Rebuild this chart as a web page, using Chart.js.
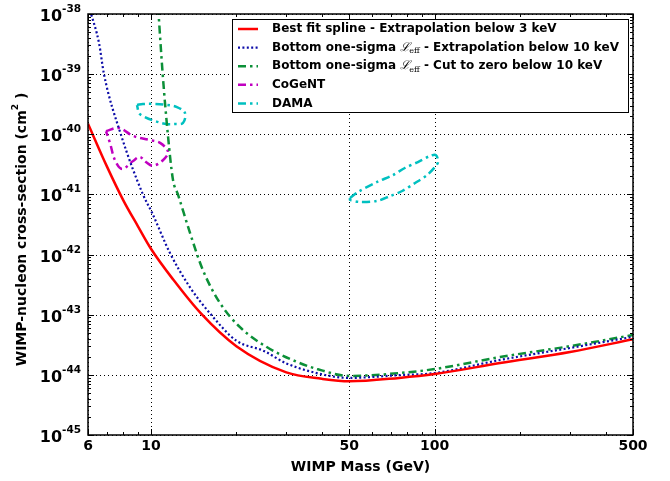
<!DOCTYPE html>
<html><head><meta charset="utf-8">
<script src="https://cdn.jsdelivr.net/npm/chart.js@4.4.1/dist/chart.umd.min.js"></script>
<style>html,body{margin:0;padding:0;background:#fff;}canvas{display:block;}</style>
</head><body>
<canvas id="c" width="670" height="481"></canvas>
<script>
// ---- data ----
const xTickValues = [6, 10, 50, 100, 500];
const xMinorTicks = [7, 8, 9, 20, 30, 40, 60, 70, 80, 90, 200, 300, 400];
const yTickExponents = [-45, -44, -43, -42, -41, -40, -39, -38];

const bestFitMass  = [6, 7, 8, 9, 10, 12, 15, 20, 30, 40, 50, 75, 100, 170, 300, 500];
const bestFitSigma = [1.5e-40, 2.9e-41, 7.9e-42, 2.95e-42, 1.25e-42, 3.8e-43, 1.05e-43, 3.0e-44, 1.1e-44, 8.6e-45, 7.8e-45, 8.9e-45, 1.03e-44, 1.57e-44, 2.4e-44, 3.9e-44];

const extrapMass  = [6.1, 6.56, 6.83, 7.83, 9.37, 10.1, 11.67, 13.7, 16.1, 20, 25, 30, 42.7, 50, 75, 100, 170, 300, 500];
const extrapSigma = [1.15e-38, 3.3e-39, 1.0e-39, 1.0e-40, 1.0e-41, 4.9e-42, 1.06e-42, 2.9e-43, 1.07e-43, 3.7e-44, 2.5e-44, 1.55e-44, 9.6e-45, 8.9e-45, 9.9e-45, 1.07e-44, 1.77e-44, 2.8e-44, 4.3e-44];

const cutMass  = [10.6, 11.0, 11.47, 11.96, 12.45, 13.73, 15.25, 17.5, 20.6, 25.6, 32.7, 38.5, 50, 75, 100, 170, 300, 500];
const cutSigma = [1.3e-38, 1.0e-39, 1.0e-40, 1.74e-41, 1.0e-41, 2.29e-42, 5.5e-43, 1.57e-43, 6.2e-44, 2.9e-44, 1.64e-44, 1.25e-44, 9.6e-45, 1.07e-44, 1.25e-44, 1.98e-44, 3.0e-44, 4.6e-44];

const cogentMass  = [6.94, 7.71, 8.65, 9.93, 10.77, 11.49, 11.02, 10.16, 9.6, 9.14, 8.65, 7.91, 7.47, 7.17, 6.94];
const cogentSigma = [1.13e-40, 1.27e-40, 9.4e-41, 8.0e-41, 7.2e-41, 5.1e-41, 3.7e-41, 3.0e-41, 3.46e-41, 4.2e-41, 3.6e-41, 2.65e-41, 3.7e-41, 7.2e-41, 1.13e-40];

const damaLowMass  = [8.93, 9.37, 10.33, 11.38, 12.35, 13.18, 12.97, 12.16, 11.38, 10.33, 9.37, 9.08, 8.93];
const damaLowSigma = [3.07e-40, 3.19e-40, 3.19e-40, 3.07e-40, 2.84e-40, 2.26e-40, 1.54e-40, 1.48e-40, 1.48e-40, 1.66e-40, 2.01e-40, 2.26e-40, 3.07e-40];

const damaHighMass  = [50.3, 53.7, 62.7, 71.3, 78.5, 87.3, 96.3, 101.1, 102.8, 100.3, 94, 85.3, 76.8, 69.7, 62.7, 54.6, 50.3, 50.3];
const damaHighSigma = [8.7e-42, 1.1e-41, 1.61e-41, 2.1e-41, 2.75e-41, 3.46e-41, 4.36e-41, 4.5e-41, 3.46e-41, 2.86e-41, 2.1e-41, 1.55e-41, 1.14e-41, 9.4e-42, 7.8e-42, 7.5e-42, 8.1e-42, 8.7e-42];

const seriesLabels = [
  'Best fit spline - Extrapolation below 3 keV',
  'Bottom one-sigma ℒ_eff - Extrapolation below 10 keV',
  'Bottom one-sigma ℒ_eff - Cut to zero below 10 keV',
  'CoGeNT',
  'DAMA'
];
const xTitle = 'WIMP Mass (GeV)';

// ---- helpers ----
const toXY = (xs, ys) => xs.map((v, i) => ({x: v, y: ys[i]}));
const FONT = "'DejaVu Sans', sans-serif";
const DASHDOT = [8, 4, 2.5, 4];

const curve = (label, xs, ys, color, width, dash, smooth) => Object.assign({
  label, data: toXY(xs, ys), borderColor: color, backgroundColor: color,
  borderWidth: width, borderDash: dash, pointRadius: 0, fill: false,
  borderJoinStyle: 'round', showLine: true
}, smooth === 'mono' ? {cubicInterpolationMode: 'monotone'} : {tension: smooth});

const datasets = [
  curve(seriesLabels[0], bestFitMass, bestFitSigma, '#ff0000', 2.5, [], 'mono'),
  curve(seriesLabels[1], extrapMass, extrapSigma, '#0c0ca8', 2.2, [2, 2.4], 'mono'),
  curve(seriesLabels[2], cutMass, cutSigma, '#0c9038', 2.5, DASHDOT, 'mono'),
  curve(seriesLabels[3], cogentMass, cogentSigma, '#c000c0', 2.5, DASHDOT, 0.35),
  curve(seriesLabels[4], damaLowMass, damaLowSigma, '#00c0c0', 2.5, DASHDOT, 0.35),
  Object.assign(curve('DAMA (high mass)', damaHighMass, damaHighSigma, '#00c0c0', 2.5, DASHDOT, 0.3), {hideInLegend: true})
];

function drawLabelText(ctx, text, x, cy) {
  const parts = text.split('ℒ_eff');
  ctx.textBaseline = 'middle';
  ctx.textAlign = 'left';
  let cx = x;
  parts.forEach((p, i) => {
    ctx.font = 'bold 12px ' + FONT;
    ctx.fillText(p, cx, cy);
    cx += ctx.measureText(p).width;
    if (i < parts.length - 1) {
      ctx.font = "italic 12px 'DejaVu Serif', serif";
      ctx.fillText('ℒ', cx, cy);
      cx += ctx.measureText('ℒ').width - 1;
      ctx.font = "8px 'DejaVu Serif', serif";
      ctx.fillText('eff', cx, cy + 3.5);
      cx += ctx.measureText('eff').width;
    }
  });
}

const decor = {
  id: 'decor',
  beforeDatasetsDraw(chart) {
    const {ctx, chartArea: a, scales: {x, y}} = chart;
    ctx.save();
    ctx.strokeStyle = '#000';
    ctx.lineWidth = 1;
    ctx.setLineDash([1, 3]);
    xTickValues.forEach(v => {
      const px = Math.round(x.getPixelForValue(v)) + 0.5;
      ctx.beginPath(); ctx.moveTo(px, a.top); ctx.lineTo(px, a.bottom); ctx.stroke();
    });
    yTickExponents.forEach(e => {
      const py = Math.round(y.getPixelForValue(Math.pow(10, e))) + 0.5;
      ctx.beginPath(); ctx.moveTo(a.left, py); ctx.lineTo(a.right, py); ctx.stroke();
    });
    ctx.restore();
  },
  afterDatasetsDraw(chart) {
    const {ctx, chartArea: a, scales: {x, y}} = chart;
    ctx.save();
    ctx.setLineDash([]);
    ctx.strokeStyle = '#000';
    ctx.lineWidth = 1;
    const tick = (x1, y1, x2, y2) => { ctx.beginPath(); ctx.moveTo(x1, y1); ctx.lineTo(x2, y2); ctx.stroke(); };
    const xt = (v, len) => {
      const px = Math.round(x.getPixelForValue(v)) + 0.5;
      tick(px, a.bottom, px, a.bottom - len);
      tick(px, a.top, px, a.top + len);
    };
    xTickValues.forEach(v => xt(v, 6));
    xMinorTicks.forEach(v => xt(v, 3));
    const yt = (v, len) => {
      const py = Math.round(y.getPixelForValue(v)) + 0.5;
      tick(a.left, py, a.left + len, py);
      tick(a.right, py, a.right - len, py);
    };
    yTickExponents.forEach(e => {
      yt(Math.pow(10, e), 6);
      if (e < -38) for (let k = 2; k <= 9; k++) yt(k * Math.pow(10, e), 3);
    });
    ctx.lineWidth = 1.5;
    ctx.strokeRect(a.left, a.top, a.right - a.left, a.bottom - a.top);

    // legend
    const bx = 232, by = 19, bw = 396, bh = 93;
    ctx.fillStyle = '#fff';
    ctx.fillRect(bx, by, bw, bh);
    ctx.lineWidth = 1;
    ctx.strokeStyle = '#000';
    ctx.strokeRect(bx + 0.5, by + 0.5, bw, bh);
    chart.data.datasets.filter(d => !d.hideInLegend).forEach((d, i) => {
      const cy = 29 + i * 18.6;
      ctx.save();
      ctx.strokeStyle = d.borderColor;
      ctx.lineWidth = d.borderWidth;
      ctx.setLineDash(d.borderDash || []);
      ctx.beginPath(); ctx.moveTo(238, cy); ctx.lineTo(258, cy); ctx.stroke();
      ctx.restore();
      ctx.fillStyle = '#000';
      drawLabelText(ctx, d.label, 272, cy);
    });

    // tick labels
    ctx.fillStyle = '#000';
    ctx.textBaseline = 'alphabetic';
    ctx.textAlign = 'center';
    ctx.font = 'bold 14px ' + FONT;
    xTickValues.forEach(v => ctx.fillText(String(v), x.getPixelForValue(v), 450));
    yTickExponents.forEach(e => {
      const py = y.getPixelForValue(Math.pow(10, e));
      ctx.textAlign = 'left';
      ctx.font = 'bold 16px ' + FONT;
      const w1 = ctx.measureText('10').width;
      ctx.font = 'bold 10.5px ' + FONT;
      const es = String(e);
      const w2 = ctx.measureText(es).width;
      const x0 = 81 - w1 - w2;
      ctx.font = 'bold 16px ' + FONT;
      ctx.fillText('10', x0, py + 7);
      ctx.font = 'bold 10.5px ' + FONT;
      ctx.fillText(es, x0 + w1, py - 2);
    });

    // axis titles
    ctx.textAlign = 'center';
    ctx.font = 'bold 14px ' + FONT;
    ctx.fillText(xTitle, (a.left + a.right) / 2, 471);

    ctx.translate(22, (a.top + a.bottom) / 2 + 5);
    ctx.rotate(-Math.PI / 2);
    ctx.textAlign = 'left';
    ctx.textBaseline = 'middle';
    const p1 = 'WIMP-nucleon cross-section (cm', sup = '2', p2 = ' )';
    ctx.font = 'bold 14px ' + FONT;
    const w1 = ctx.measureText(p1).width, w3 = ctx.measureText(p2).width;
    ctx.font = 'bold 9px ' + FONT;
    const w2 = ctx.measureText(sup).width;
    let sx = -(w1 + w2 + w3) / 2;
    ctx.font = 'bold 14px ' + FONT;
    ctx.fillText(p1, sx, 0); sx += w1;
    ctx.font = 'bold 9px ' + FONT;
    ctx.fillText(sup, sx, -6); sx += w2;
    ctx.font = 'bold 14px ' + FONT;
    ctx.fillText(p2, sx, 0);
    ctx.restore();
  }
};

new Chart(document.getElementById('c'), {
  type: 'line',
  data: { datasets },
  options: {
    responsive: false,
    animation: false,
    devicePixelRatio: 1,
    layout: { padding: { left: 88, right: 37, top: 14, bottom: 46 } },
    plugins: { legend: { display: false }, tooltip: { enabled: false } },
    elements: { point: { radius: 0 } },
    scales: {
      x: { type: 'logarithmic', min: 6, max: 500, display: false },
      y: { type: 'logarithmic', min: 1e-45, max: 1e-38, display: false }
    }
  },
  plugins: [decor]
});
</script>
</body></html>
